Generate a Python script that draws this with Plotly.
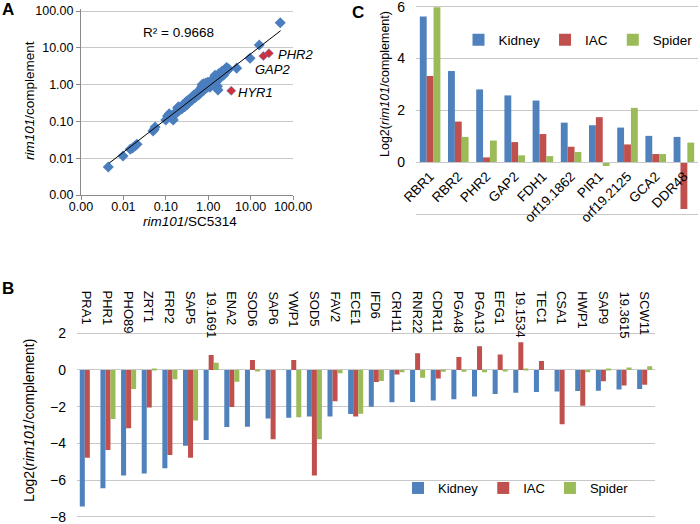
import numpy as np
import plotly.graph_objects as go

# ---------------- Panel A data ----------------
scatter_x = [0.0044, 0.0098, 0.0145, 0.0165, 0.019, 0.021, 0.050, 0.053, 0.056,
             0.10, 0.11, 0.12, 0.14, 0.15, 0.16, 0.18, 0.19, 0.20, 0.21, 0.23,
             0.25, 0.27, 0.29, 0.31, 0.33, 0.35, 0.37, 0.40, 0.42, 0.45, 0.48,
             0.50, 0.53, 0.56, 0.60, 0.62, 0.65, 0.68, 0.70, 0.72, 0.75, 0.78,
             0.80, 0.82, 0.85, 0.88, 0.90, 0.95, 1.0, 1.05, 1.1, 1.15, 1.2, 1.3,
             1.35, 1.4, 1.45, 1.5, 1.6, 1.65, 1.7, 1.75, 1.8, 1.9, 2.0, 2.2,
             2.4, 2.5, 2.7, 2.8, 3.0, 4.7, 9.7, 16.0, 50.0,
             0.13, 0.17, 0.22, 0.24, 0.26, 0.28, 0.30, 0.32, 0.34, 0.36, 0.38,
             0.41, 0.44, 0.46, 0.52, 0.55, 0.58, 0.64, 0.67, 0.73, 0.77, 0.84,
             0.92, 0.98, 1.08, 1.12, 1.25, 1.32, 1.55, 1.62, 1.85, 2.1, 2.3,
             2.6, 2.9]
scatter_y = [0.0058, 0.0115, 0.0175, 0.019, 0.022, 0.024, 0.055, 0.060, 0.070,
             0.11, 0.14, 0.16, 0.12, 0.11, 0.15, 0.19, 0.23, 0.25, 0.20, 0.22,
             0.26, 0.28, 0.31, 0.30, 0.35, 0.33, 0.40, 0.42, 0.38, 0.47, 0.50,
             0.45, 0.55, 0.58, 0.62, 0.55, 0.70, 0.75, 0.85, 1.0, 0.95, 1.05,
             0.72, 0.80, 0.90, 1.1, 0.95, 1.0, 0.92, 1.1, 0.85, 1.0, 1.25, 1.1,
             1.5, 1.3, 1.8, 1.15, 1.6, 0.9, 0.71, 1.4, 2.0, 1.7, 1.9, 2.2,
             2.0, 2.6, 2.9, 2.4, 2.7, 2.8, 5.2, 11.9, 48.0,
             0.15, 0.17, 0.24, 0.22, 0.29, 0.25, 0.34, 0.29, 0.38, 0.36, 0.36,
             0.45, 0.42, 0.52, 0.50, 0.62, 0.52, 0.66, 0.62, 0.78, 0.70, 1.0,
             0.82, 1.15, 0.98, 1.2, 1.05, 1.4, 1.35, 1.25, 1.55, 2.3, 1.8,
             2.3, 2.5]
highlight_genes = ["HYR1", "GAP2", "PHR2"]
highlight_x = [3.5, 20.0, 27.0]
highlight_y = [0.68, 6.0, 7.1]
trend_a = 0.88
trend_b = 0.89
trend_x_ends = [0.0046, 51.0]
r2_text = "R² = 0.9668"
a_tickvals = [0.001, 0.01, 0.1, 1, 10, 100]
a_ticktext = ["0.00", "0.01", "0.10", "1.00", "10.00", "100.00"]

# ---------------- Panel B data ----------------
b_genes = ["PRA1", "PHR1", "PHO89", "ZRT1", "FRP2", "SAP5", "19.1691", "ENA2",
           "SOD6", "SAP6", "YWP1", "SOD5", "FAV2", "ECE1", "IFD6", "CRH11",
           "RNR22", "CDR11", "PGA48", "PGA13", "EFG1", "19.1534", "TEC1",
           "CSA1", "HWP1", "SAP9", "19.3615", "SCW11"]
b_kidney = [-7.45, -6.45, -5.76, -5.64, -5.36, -4.13, -3.82, -3.11, -3.09,
            -2.65, -2.60, -2.53, -2.53, -2.40, -2.00, -1.76, -1.75, -1.67,
            -1.60, -1.45, -1.31, -1.24, -1.20, -1.18, -1.15, -1.13, -1.07, -1.04]
b_iac = [-4.78, -4.36, -3.18, -2.05, -4.64, -4.78, 0.82, -2.02, 0.55,
         -3.78, 0.55, -5.76, -1.71, -2.53, -0.65, -0.25, 0.91, -0.47,
         0.71, 1.29, 0.85, 1.51, 0.49, -2.96, -1.95, -0.62, -0.85, -0.80]
b_spider = [0.0, -2.67, -1.04, 0.05, -0.51, -2.76, 0.40, -0.64, -0.03,
            0.0, -2.58, -3.78, -0.18, -2.38, -0.60, -0.13, -0.42, -0.09,
            -0.09, -0.13, -0.05, 0.04, 0.0, 0.0, -0.13, 0.07, 0.13, 0.20]
b_tickvals = [-8, -6, -4, -2, 0, 2]

# ---------------- Panel C data ----------------
c_genes = ["RBR1", "RBR2", "PHR2", "GAP2", "FDH1", "orf19.1862", "PIR1",
           "orf19.2125", "GCA2", "DDR48"]
c_kidney = [5.62, 3.52, 2.81, 2.58, 2.38, 1.53, 1.43, 1.34, 1.02, 0.98]
c_iac = [3.33, 1.57, 0.19, 0.78, 1.09, 0.60, 1.74, 0.69, 0.32, -1.80]
c_spider = [5.98, 0.98, 0.84, 0.27, 0.24, 0.40, -0.14, 2.10, 0.32, 0.76]
c_tickvals = [-2, 0, 2, 4, 6]
c_ticktext = ["", "0", "2", "4", "6"]

series_names = ["Kidney", "IAC", "Spider"]
series_colors = ["#4F81BD", "#C0504D", "#9BBB59"]

# ---------------- layout helpers ----------------
W, H = 700, 524
def px(x):
    return x / W
def py(y):
    return 1 - y / H

def padded(lo, hi, top_px, bot_px, pad_px=1.8):
    """Extend a value range by a couple of pixels so edge gridlines are kept."""
    per_px = (hi - lo) / (bot_px - top_px)
    d = pad_px * per_px
    return [lo - d, hi + d], [py(bot_px + pad_px), py(top_px - pad_px)]

FONT = "Liberation Sans, Arial, sans-serif"
GRID = "#c8c8c8"
AXIS = "#8a8a8a"

fig = go.Figure()

# Panel A
fig.add_trace(go.Scatter(x=scatter_x, y=scatter_y, mode="markers",
                         marker=dict(symbol="diamond", size=8.5, color="#4A7EBF"),
                         xaxis="x", yaxis="y", showlegend=False))
tx = np.array(trend_x_ends)
fig.add_trace(go.Scatter(x=tx, y=trend_a * tx ** trend_b, mode="lines",
                         line=dict(color="black", width=1),
                         xaxis="x", yaxis="y", showlegend=False))
fig.add_trace(go.Scatter(x=highlight_x, y=highlight_y, mode="markers",
                         marker=dict(symbol="diamond", size=7, color="#D0303C",
                                     line=dict(color="#5b7fc0", width=0.6)),
                         xaxis="x", yaxis="y", showlegend=False))

# Panel B
for name, vals, col in zip(series_names, [b_kidney, b_iac, b_spider], series_colors):
    fig.add_trace(go.Bar(x=b_genes, y=vals, name=name, marker_color=col,
                         marker_line_width=0, xaxis="x2", yaxis="y2",
                         legend="legend", offsetgroup=name + "B"))

# Panel C
for name, vals, col in zip(series_names, [c_kidney, c_iac, c_spider], series_colors):
    fig.add_trace(go.Bar(x=c_genes, y=vals, name=name, marker_color=col,
                         marker_line_width=0, xaxis="x3", yaxis="y3",
                         legend="legend2", offsetgroup=name + "C"))

# axis ranges / domains (small padding keeps the end gridlines visible)
a_yr = [-3, 2 + 1.8 * 5 / 184]
a_yd = [py(195), py(11 - 1.8)]
b_yr, b_yd = padded(-8, 2, 333.3, 516.7)
c_yr, c_yd = padded(-2, 6, 6.7, 214.2)
c_zero_pos = c_yd[0] + (0 - c_yr[0]) / (c_yr[1] - c_yr[0]) * (c_yd[1] - c_yd[0])

fig.update_layout(
    width=W, height=H, margin=dict(l=0, r=0, t=0, b=0, autoexpand=False),
    paper_bgcolor="white", plot_bgcolor="white",
    font=dict(family=FONT, color="black", size=13),
    barmode="group", bargap=0.27, bargroupgap=0,
    xaxis=dict(domain=[px(81), px(293)], anchor="y", type="log", range=[-3, 2],
               tickvals=a_tickvals, ticktext=a_ticktext, showgrid=False,
               showline=True, linecolor=AXIS, ticks="outside", ticklen=4,
               tickcolor=AXIS, zeroline=False, tickfont=dict(size=12.5),
               ticklabelstandoff=-4, automargin=False, ticklabeloverflow="allow"),
    yaxis=dict(domain=a_yd, anchor="x", type="log", range=a_yr,
               tickvals=a_tickvals, ticktext=a_ticktext, showgrid=True,
               gridcolor=GRID, showline=True, linecolor=AXIS, ticks="outside",
               ticklen=4, tickcolor=AXIS, zeroline=False, tickfont=dict(size=12.5),
               automargin=False, ticklabeloverflow="allow"),
    xaxis2=dict(domain=[px(77), px(655)], anchor="y2", type="category",
                showticklabels=False, showline=False, showgrid=False,
                zeroline=False, ticks="", automargin=False),
    yaxis2=dict(domain=b_yd, anchor="x2", range=b_yr,
                tickvals=b_tickvals, showgrid=True, gridcolor=GRID,
                zeroline=True, zerolinecolor=GRID, zerolinewidth=1,
                showline=False, ticks="", ticklabelstandoff=10,
                tickfont=dict(size=14), automargin=False,
                ticklabeloverflow="allow"),
    xaxis3=dict(domain=[px(416), px(698)], anchor="free", position=c_zero_pos,
                type="category", showline=True, linecolor=GRID, showgrid=False,
                zeroline=False, ticks="", tickangle=-45, tickfont=dict(size=13.5),
                automargin=False),
    yaxis3=dict(domain=c_yd, anchor="x3", range=c_yr, tickvals=c_tickvals,
                ticktext=c_ticktext, showgrid=True, gridcolor=GRID,
                zeroline=False, showline=False, ticks="", ticklabelstandoff=10,
                tickfont=dict(size=14), automargin=False,
                ticklabeloverflow="allow"),
    legend=dict(orientation="h", x=px(516), y=py(488), xanchor="center",
                yanchor="middle", font=dict(size=13), bgcolor="rgba(0,0,0,0)",
                itemwidth=30, tracegroupgap=0),
    legend2=dict(orientation="h", x=px(578), y=py(40), xanchor="center",
                 yanchor="middle", font=dict(size=13.5), bgcolor="rgba(0,0,0,0)",
                 itemwidth=30, tracegroupgap=0),
)

ann = []
# panel letters
for letter, x, y in [("A", 8, 10), ("B", 8, 288), ("C", 358, 12)]:
    ann.append(dict(text="<b>%s</b>" % letter, x=px(x), y=py(y), xref="paper",
                    yref="paper", showarrow=False, font=dict(size=17),
                    xanchor="center", yanchor="middle"))
# axis titles
def title(text, x, y, size, angle=0):
    return dict(text=text, x=px(x), y=py(y), xref="paper", yref="paper",
                showarrow=False, textangle=angle, font=dict(size=size),
                xanchor="center", yanchor="middle")
ann.append(title("<i>rim101</i>/complement", 30, 101, 13.5, -90))
ann.append(title("<i>rim101</i>/SC5314", 190, 221, 13.5))
ann.append(title("Log2(<i>rim101</i>/complement)", 29, 421, 14, -90))
ann.append(title("Log2(<i>rim101</i>/complement)", 385, 84, 12.5, -90))
ann.append(title(r2_text, 178, 33, 13.5))
# highlighted gene labels
ann.append(dict(text="<i>%s</i>" % highlight_genes[0], x=np.log10(highlight_x[0]),
                y=np.log10(highlight_y[0]), xref="x", yref="y", showarrow=False,
                xanchor="left", yanchor="middle", xshift=5, yshift=-2,
                font=dict(size=13)))
ann.append(dict(text="<i>%s</i>" % highlight_genes[1], x=np.log10(highlight_x[1]),
                y=np.log10(highlight_y[1]), xref="x", yref="y", showarrow=False,
                xanchor="center", yanchor="top", xshift=9, yshift=-4,
                font=dict(size=13)))
ann.append(dict(text="<i>%s</i>" % highlight_genes[2], x=np.log10(highlight_x[2]),
                y=np.log10(highlight_y[2]), xref="x", yref="y", showarrow=False,
                xanchor="left", yanchor="middle", xshift=7, yshift=-1,
                font=dict(size=13)))
# panel B category labels (top, rotated), placed by category index
for i, g in enumerate(b_genes):
    ann.append(dict(text=g, x=i, y=py(289), xref="x2", yref="paper",
                    showarrow=False, textangle=90, xanchor="center", yanchor="top",
                    font=dict(size=13)))
fig.update_layout(annotations=ann)

fig.write_html("out.html", config={"displayModeBar": False},
               post_script="document.body.style.margin='0';document.body.style.padding='0';")
